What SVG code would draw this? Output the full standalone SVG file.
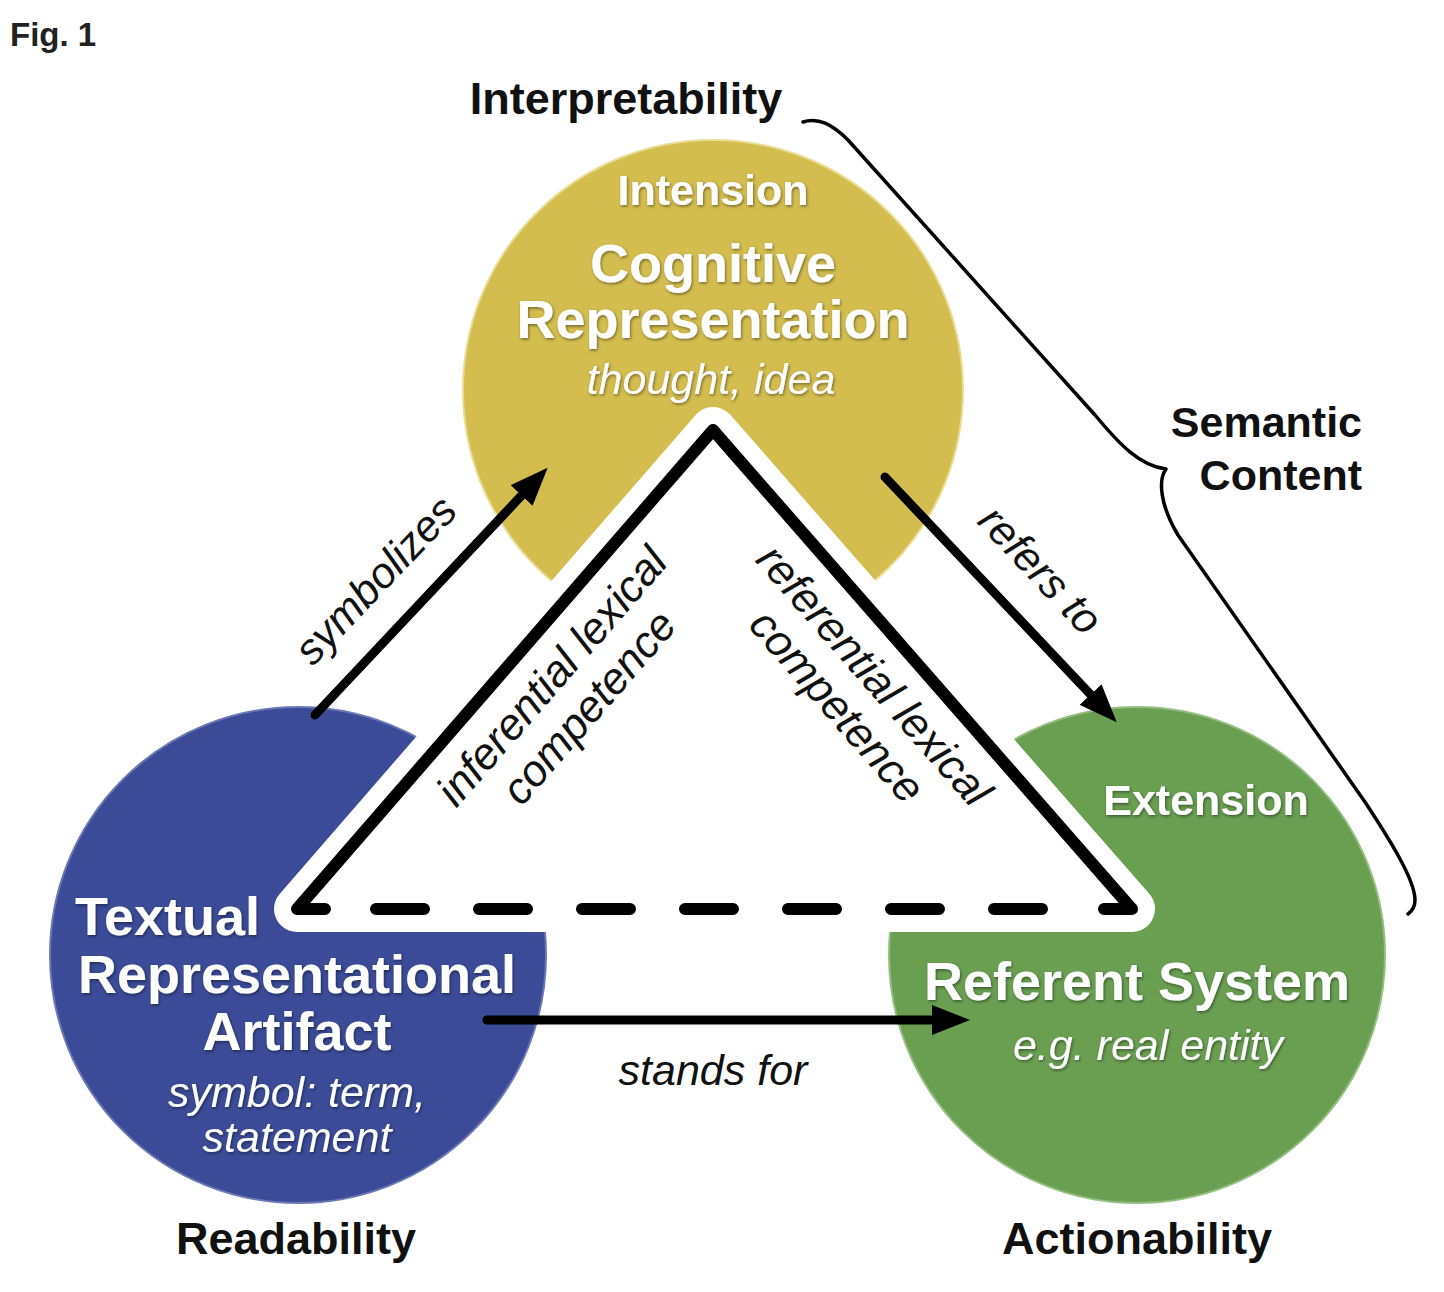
<svg xmlns="http://www.w3.org/2000/svg" width="1444" height="1292" viewBox="0 0 1444 1292">
<style>
  text { font-family: "Liberation Sans", Arial, Helvetica, sans-serif; }
  .lbl { fill: #111; font-weight: bold; text-anchor: middle; }
  .wb { fill: #ffffff; font-weight: bold; text-anchor: middle; filter: url(#glow); }
  .wi { fill: #ffffff; font-style: italic; text-anchor: middle; filter: url(#glow); }
  .ci { fill: #111; font-style: italic; text-anchor: middle; font-size: 43px; }
  .arrow { stroke: #000; stroke-width: 9; stroke-linecap: round; fill: none; marker-end: url(#head); }
</style>
<defs>
  <marker id="head" markerUnits="userSpaceOnUse" markerWidth="40" markerHeight="30" viewBox="0 0 40 30" refX="2" refY="15" orient="auto">
    <path d="M0,0 L38,15 L0,30 Z" fill="#000"/>
  </marker>
  <filter id="glow" x="-10%" y="-30%" width="120%" height="160%">
    <feDropShadow dx="1" dy="1.5" stdDeviation="1.6" flood-color="#000" flood-opacity="0.45"/>
  </filter>
</defs>
<rect width="1444" height="1292" fill="#ffffff"/>

<text x="10" y="46" font-size="33" font-weight="bold" fill="#222">Fig. 1</text>

<g id="node-cognitive">
  <circle cx="713" cy="390" r="250" fill="#D3BD4F" stroke="#E9DC93" stroke-width="2"/>
</g>
<g id="node-textual">
  <circle cx="298" cy="955" r="248" fill="#3B4B97" stroke="#6C78B3" stroke-width="2"/>
</g>
<g id="node-referent">
  <circle cx="1137" cy="955" r="248" fill="#6A9F52" stroke="#95BE82" stroke-width="2"/>
</g>

<g id="triangle">
  <polygon points="713,430 297,909 1132,909" fill="#ffffff" stroke="#ffffff" stroke-width="46" stroke-linejoin="round"/>
</g>

<g id="node-cognitive-text">
  <text class="wb" x="713" y="205" font-size="43">Intension</text>
  <text class="wb" x="713" y="282" font-size="54">Cognitive</text>
  <text class="wb" x="713" y="338" font-size="54">Representation</text>
  <text class="wi" x="711" y="394" font-size="43">thought, idea</text>
</g>
<g id="node-textual-text">
  <text class="wb" x="75" y="935" font-size="54" text-anchor="start" style="text-anchor:start">Textual</text>
  <text class="wb" x="297" y="993" font-size="54">Representational</text>
  <text class="wb" x="297" y="1050" font-size="54">Artifact</text>
  <text class="wi" x="297" y="1107" font-size="43">symbol: term,</text>
  <text class="wi" x="297" y="1152" font-size="43">statement</text>
</g>
<g id="node-referent-text">
  <text class="wb" x="1206" y="815" font-size="43">Extension</text>
  <text class="wb" x="1137" y="1000" font-size="54">Referent System</text>
  <text class="wi" x="1148" y="1060" font-size="43">e.g. real entity</text>
</g>

<g id="labels">
  <text class="lbl" x="626" y="114" font-size="45">Interpretability</text>
  <text class="lbl" x="1362" y="437" font-size="43" style="text-anchor:end">Semantic</text>
  <text class="lbl" x="1362" y="490" font-size="43" style="text-anchor:end">Content</text>
  <text class="lbl" x="296" y="1254" font-size="45">Readability</text>
  <text class="lbl" x="1137" y="1254" font-size="45">Actionability</text>
</g>

<g id="connectors">
  <path d="M325,909 L297,909 L713,430 L1132,909 L1104,909" fill="none" stroke="#000" stroke-width="12" stroke-linejoin="round" stroke-linecap="round"/>
  <path d="M376,909 L1042,909" fill="none" stroke="#000" stroke-width="12" stroke-linecap="round" stroke-dasharray="48 55"/>
  <path class="arrow" d="M315,715 L523,494"/>
  <path class="arrow" d="M885,477 L1092,696"/>
  <path class="arrow" d="M487,1020 L934,1020"/>
  <path d="M803,122 C818,117 832,124 848,140 L1095,415 C1120,445 1140,466 1166,469 C1158,480 1160,505 1178,535 L1365,802 C1390,840 1415,880 1415,900 C1415,907 1412,911 1408,914" fill="none" stroke="#000" stroke-width="3.5" stroke-linecap="round" stroke-linejoin="round"/>
</g>

<g id="connector-labels">
  <text class="ci" transform="translate(386,590) rotate(-46.5)">symbolizes</text>
  <text class="ci" transform="translate(1030,580) rotate(46.8)">refers to</text>
  <text class="ci" x="713" y="1085">stands for</text>
  <text class="ci" font-size="44" style="font-size:44px" transform="translate(563,686) rotate(-49)">inferential lexical</text>
  <text class="ci" font-size="44" style="font-size:44px" transform="translate(600,717) rotate(-49)">competence</text>
  <text class="ci" font-size="44" style="font-size:44px" transform="translate(863,685) rotate(48.8)">referential lexical</text>
  <text class="ci" font-size="44" style="font-size:44px" transform="translate(826,716) rotate(48.8)">competence</text>
</g>
</svg>
